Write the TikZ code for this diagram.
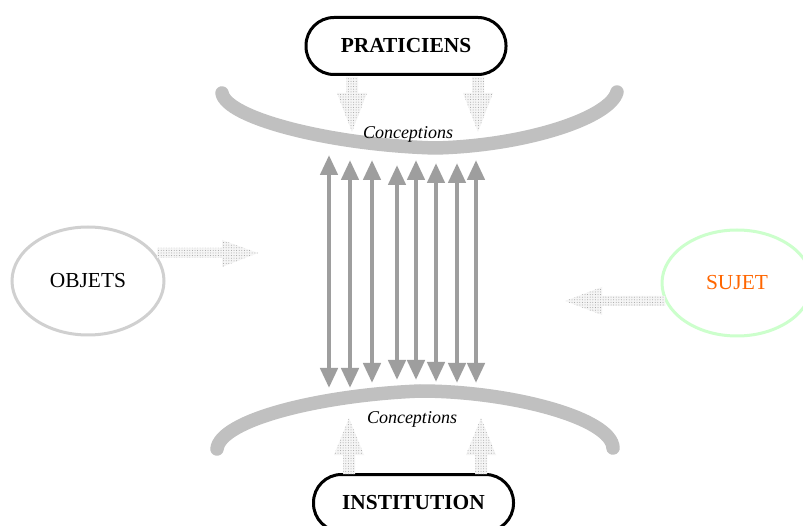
\documentclass[tikz,border=0pt]{standalone}
\usepackage{fontspec}
\setmainfont{Liberation Serif}
\usetikzlibrary{arrows.meta,shapes.geometric,patterns.meta}
\definecolor{arcgray}{RGB}{192,192,192}
\definecolor{ellgray}{RGB}{208,208,208}
\definecolor{ellgreen}{RGB}{204,255,204}
\definecolor{sujorange}{RGB}{255,102,0}
\definecolor{dblgray}{RGB}{158,158,158}
\definecolor{fatfill}{RGB}{245,245,245}
\tikzset{
  termbox/.style={draw=black, line width=3pt, rounded corners=28pt, minimum width=200pt, minimum height=57pt, inner sep=0pt, font=\fontsize{21.4}{24}\selectfont\bfseries},
  ellbox/.style={ellipse, line width=3pt, inner sep=0pt, font=\fontsize{21.4}{24}\selectfont},
  arcline/.style={draw=arcgray, line width=13.5pt, line cap=round},
  conclabel/.style={font=\fontsize{18}{20}\selectfont\itshape, inner sep=0pt},
  dblarrow/.style={draw=dblgray, line width=4.5pt, {Triangle[width=17pt,length=20pt]}-{Triangle[width=17pt,length=20pt]}},
  fatarrow/.style={fill=fatfill, postaction={pattern={Dots[distance=2.6pt, radius=0.5pt]}, pattern color=gray!75}, draw=none}
}
\begin{document}
\begin{tikzpicture}[x=1pt,y=-1pt]
\useasboundingbox (0,0) rectangle (803,526);
\clip (0,0) rectangle (803,526);
\fill[white] (0,0) rectangle (803,526);

% arcs
\draw[arcline] (222,93) .. controls (226,118) and (330,145) .. (435,148) .. controls (525,146) and (610,118) .. (617,92);
\draw[arcline] (217,449) .. controls (220,420) and (320,395) .. (420,391) .. controls (510,391) and (612,418) .. (613,448);

% end boxes
\node[termbox] (prat) at (406,46) {PRATICIENS};
\node[termbox] (inst) at (413.5,503) {INSTITUTION};

% ellipses
\node[ellbox, draw=ellgray, minimum width=152pt, minimum height=108pt] (obj) at (88,281) {OBJETS};
\node[ellbox, draw=ellgreen, minimum width=150pt, minimum height=106pt, text=sujorange] (suj) at (737,283) {SUJET};

% conceptions
\node[conclabel] (c1) at (408,134) {Conceptions};
\node[conclabel] (c2) at (412,419) {Conceptions};

% fat dotted arrows, top
\fill[fatarrow] (346,77) -- (358,77) -- (358,93) -- (367,93) -- (352,132) -- (337,93) -- (346,93) -- cycle;
\fill[fatarrow] (472,77) -- (484,77) -- (484,93) -- (493,93) -- (478,132) -- (463,93) -- (472,93) -- cycle;
% bottom
\fill[fatarrow] (343,474) -- (355,474) -- (355,455) -- (364,455) -- (349,418) -- (334,455) -- (343,455) -- cycle;
\fill[fatarrow] (475,474) -- (487,474) -- (487,455) -- (496,455) -- (481,418) -- (466,455) -- (475,455) -- cycle;
% left and right
\fill[fatarrow] (157,248) -- (222,248) -- (222,240) -- (258,253) -- (222,267) -- (222,258) -- (157,258) -- cycle;
\fill[fatarrow] (665,296) -- (602,296) -- (602,287) -- (565,301) -- (602,315) -- (602,306) -- (665,306) -- cycle;

% double arrows
\foreach \i/\x/\t/\b in {1/329/155/388, 2/350/160/388, 3/372/160/383, 4/397/165/380, 5/416/160/380, 6/436/163/382, 7/457/163/383, 8/476/160/383} {
  \coordinate (t\i) at (\x,\t);
  \coordinate (b\i) at (\x,\b);
  \draw[dblarrow] (t\i) -- (b\i);
}
\end{tikzpicture}
\end{document}
